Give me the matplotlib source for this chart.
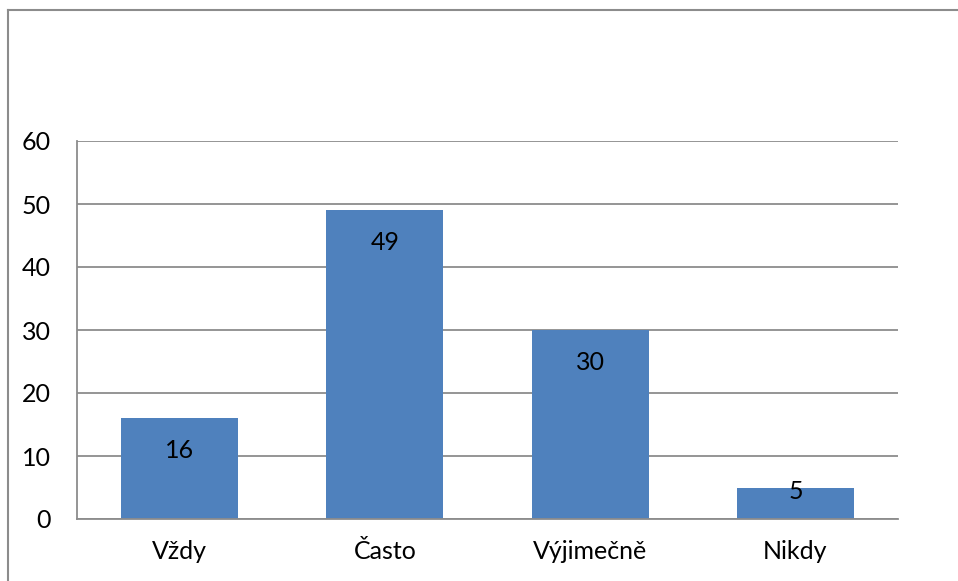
import matplotlib
matplotlib.use("Agg")
import matplotlib.pyplot as plt
from matplotlib.lines import Line2D

categories = ["Vždy", "Často", "Výjimečně", "Nikdy"]
values = [16, 49, 30, 5]
yticks = [0, 10, 20, 30, 40, 50, 60]

plt.rcParams['font.family'] = ['Lato', 'DejaVu Sans']

W, H = 958, 581
fig = plt.figure(figsize=(W / 100, H / 100), dpi=100)
ax = fig.add_axes([77 / W, 1 - 519 / H, (898 - 77) / W, (519 - 141) / H])

x = list(range(len(categories)))
ax.bar(x, values, width=0.57, color="#4F81BD", zorder=3)
ax.set_xlim(-0.5, len(categories) - 0.5)
ax.set_ylim(0, 60)
ax.set_yticks(yticks)
ax.set_yticklabels([str(t) for t in yticks])
ax.set_xticks(x)
ax.set_xticklabels(categories)
ax.tick_params(axis='both', length=0, labelsize=18, colors='black')
ax.tick_params(axis='y', pad=19)
ax.tick_params(axis='x', pad=15)

ax.grid(axis='y', color='#8c8c8c', linewidth=1.3, zorder=0)
for s in ['top', 'right']:
    ax.spines[s].set_visible(False)
for s in ['left', 'bottom']:
    ax.spines[s].set_color('#8c8c8c')
    ax.spines[s].set_linewidth(1.3)
    ax.spines[s].set_zorder(4)

for xi, v in zip(x, values):
    ly = v - 5.1 if v > 10 else v - 0.7
    ax.text(xi, ly, str(v), ha='center', va='center', fontsize=18, color='black', zorder=5)

# outer frame (left and top edges visible)
fig.add_artist(Line2D([8 / W, 8 / W], [0, 1 - 10 / H], transform=fig.transFigure,
                      color='#8c8c8c', linewidth=1.5))
fig.add_artist(Line2D([8 / W, 1], [1 - 10 / H, 1 - 10 / H], transform=fig.transFigure,
                      color='#8c8c8c', linewidth=1.5))

fig.savefig("out.png", dpi=100)
